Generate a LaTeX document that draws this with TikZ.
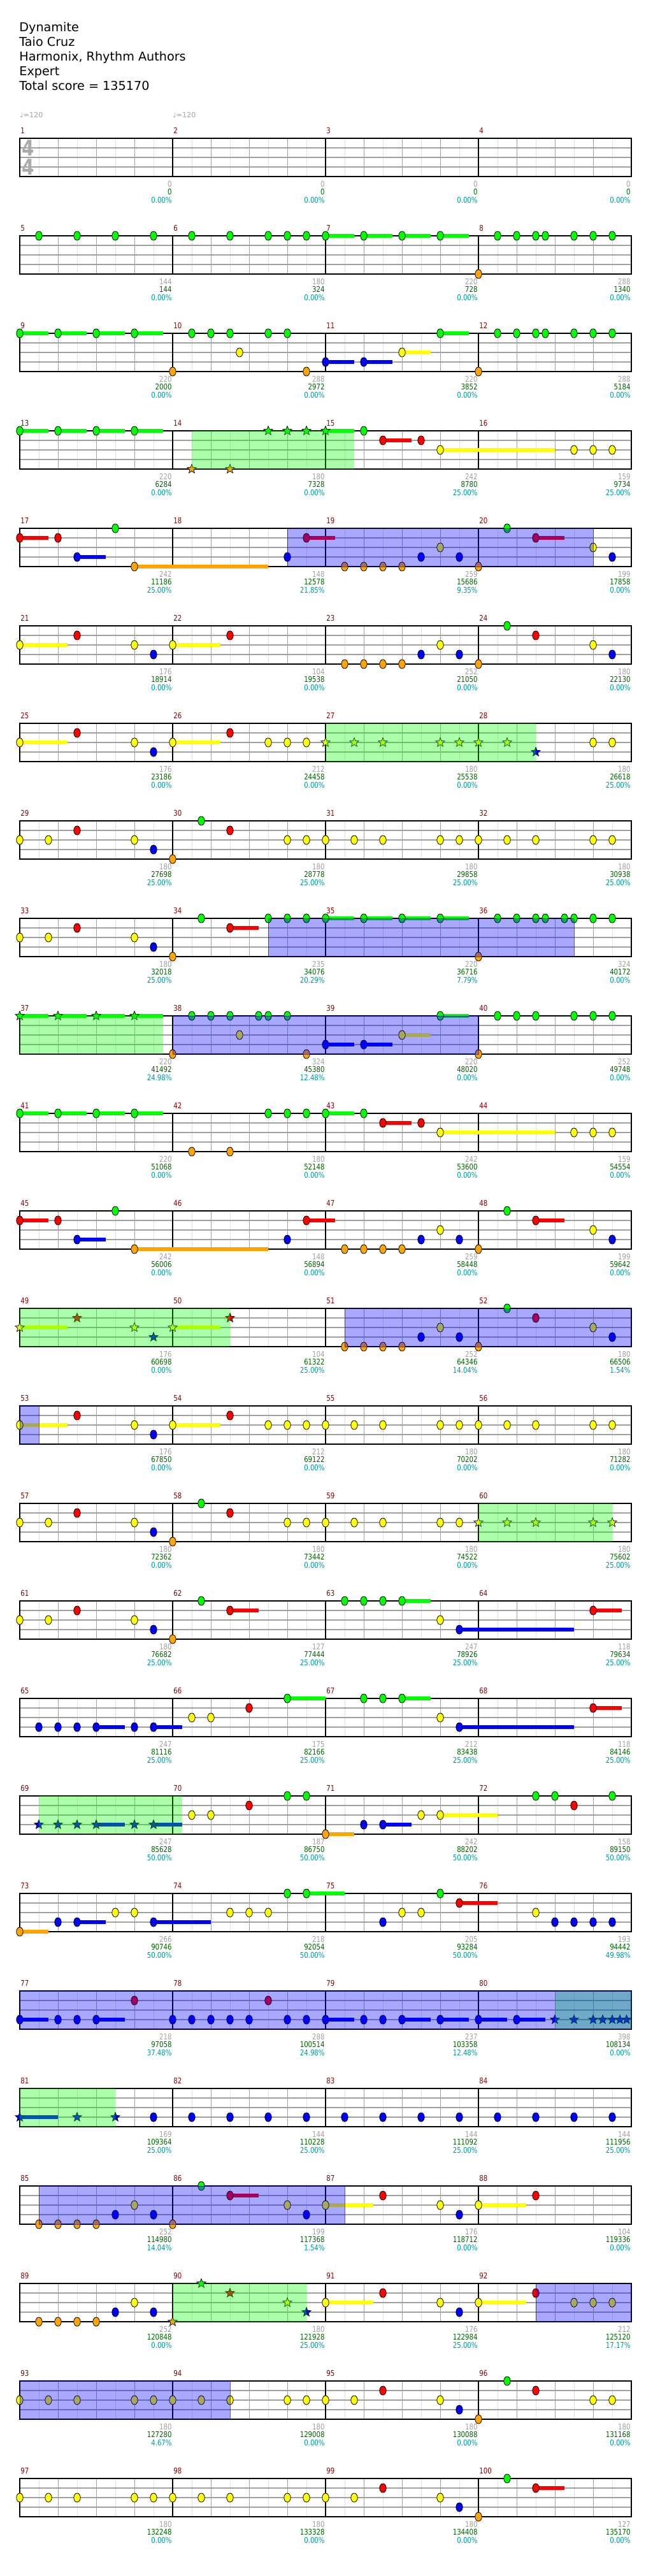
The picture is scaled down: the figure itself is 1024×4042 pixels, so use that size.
\documentclass[tikz,border=0pt]{standalone}
\usepackage{fontspec}
\setmainfont{DejaVu Sans}
\newfontfamily\numfont[FakeStretch=0.82]{DejaVu Sans}
\usetikzlibrary{shapes.geometric}

\definecolor{lane0}{HTML}{00FF00}
\definecolor{lane1}{HTML}{FF0000}
\definecolor{lane2}{HTML}{FFFF00}
\definecolor{lane3}{HTML}{0000FF}
\definecolor{lane4}{HTML}{FFA500}
\definecolor{barred}{HTML}{8B0000}
\definecolor{lblgrey}{HTML}{A0A0A0}
\definecolor{lblgreen}{HTML}{006400}
\definecolor{lblteal}{HTML}{009999}
\definecolor{gridlight}{HTML}{E0E0E0}
\definecolor{gridmid}{HTML}{A0A0A0}

% grid of one row of four measures
\newcommand{\drawstaff}[1]{%
  \pgfmathsetmacro{\T}{217+153*#1}
  \foreach \k in {1,3,...,31} \draw[minorline] ({31+30*\k},\T) -- ++(0,60);
  \foreach \j in {1,2,3} \draw[laneline] (31,{\T+15*\j}) -- ++(960,0);
  \foreach \k in {2,4,6,10,12,14,18,20,22,26,28,30} \draw[beatline] ({31+30*\k},\T) -- ++(0,60);
  \foreach \k in {8,16,24} \draw[barline] ({31+30*\k},\T) -- ++(0,60);
  \draw[barline] (31,\T) rectangle ++(960,60);
}
% notes: position (eighths) / lane / sustain end
\newcommand{\drawnotes}[2]{%
  \pgfmathsetmacro{\T}{217+153*#1}
  \foreach \p/\l/\e in {#2}{
    \ifdim\e pt>0pt \fill[lane\l] ({31+30*\p},{\T+15*\l-3.4}) rectangle ({31+30*\e},{\T+15*\l+3.4}); \fi
    \filldraw[notehead, fill=lane\l] ({31+30*\p},{\T+15*\l}) ellipse (2.6pt and 3.5pt);
  }
}
\newcommand{\drawstars}[2]{%
  \pgfmathsetmacro{\T}{217+153*#1}
  \foreach \p/\l/\e [count=\i] in {#2}{
    \ifdim\e pt>0pt \fill[lane\l] ({31+30*\p},{\T+15*\l-3.4}) rectangle ({31+30*\e},{\T+15*\l+3.4}); \fi
    \node[starnote, fill=lane\l] (st#1-\i) at ({31+30*\p},{\T+15*\l}) {};
  }
}
% shaded zone: style, row, from, to
\newcommand{\spzone}[4]{%
  \pgfmathsetmacro{\T}{217+153*#2}
  \path[#1] ({31+30*#3},\T) rectangle ({31+30*#4},{\T+60});
}

\begin{document}
\begin{tikzpicture}[x=0.5pt, y=-0.5pt]
    \tikzset{
        minorline/.style={draw=gridlight, line width=0.5pt},
        beatline/.style={draw=gridmid, line width=0.5pt},
        laneline/.style={draw=gridmid, line width=0.6pt},
        barline/.style={draw=black, line width=0.6pt},
        notehead/.style={draw=black, line width=0.4pt},
        starnote/.style={draw=black, star, star points=5, star point ratio=2.3, minimum size=7.5pt, inner sep=0pt, line width=0.35pt},
        spblue/.style={fill=lane3, fill opacity=0.34, draw=lane3!50!black, draw opacity=0.6, line width=0.5pt},
        spgreen/.style={fill=lane0, fill opacity=0.33},
        title/.style={anchor=base west, inner sep=0pt, font=\fontsize{9.6pt}{11pt}\selectfont},
        barnum/.style={anchor=base west, inner sep=0pt, text=barred, font=\numfont\fontsize{6.2pt}{7pt}\selectfont},
        greylbl/.style={anchor=base east, inner sep=0pt, text=lblgrey, font=\numfont\fontsize{6.2pt}{7pt}\selectfont},
        scorelbl/.style={anchor=base east, inner sep=0pt, text=lblgreen, font=\numfont\fontsize{6.2pt}{7pt}\selectfont},
        pctlbl/.style={anchor=base east, inner sep=0pt, text=lblteal, font=\numfont\fontsize{6.2pt}{7pt}\selectfont},
        tempo/.style={anchor=base west, inner sep=0pt, text=lblgrey, font=\fontsize{5.6pt}{6pt}\selectfont},
        timesig/.style={inner sep=0pt, text=lblgrey!90, font=\numfont\bfseries\fontsize{17pt}{17pt}\selectfont}
    }
    \useasboundingbox[fill=white] (0,0) rectangle (1024,4042);

    % header
    \node[title] (song) at (30,49) {Dynamite};
    \node[title] (artist) at (30,72) {Taio Cruz};
    \node[title] (charter) at (30,95) {Harmonix, Rhythm Authors};
    \node[title] (diff) at (30,118) {Expert};
    \node[title] (total) at (30,141) {Total score = 135170};
    \node[tempo] (bpm1) at (31,184) {♩=120};
    \node[tempo] (bpm2) at (271,184) {♩=120};

    \foreach \r in {0,...,24} {\drawstaff{\r}}
    \node[timesig] (tsa) at (44.5,232.5) {4};
    \node[timesig] (tsb) at (44.5,262.5) {4};

    % measure numbers and running scores
    \foreach \m/\a/\b/\c in {1/0/0/0.00, 2/0/0/0.00, 3/0/0/0.00, 4/0/0/0.00,
        5/144/144/0.00, 6/180/324/0.00, 7/220/728/0.00, 8/288/1340/0.00,
        9/220/2000/0.00, 10/288/2972/0.00, 11/220/3852/0.00, 12/288/5184/0.00,
        13/220/6284/0.00, 14/180/7328/0.00, 15/242/8780/25.00, 16/159/9734/25.00,
        17/242/11186/25.00, 18/148/12578/21.85, 19/259/15686/9.35, 20/199/17858/0.00,
        21/176/18914/0.00, 22/104/19538/0.00, 23/252/21050/0.00, 24/180/22130/0.00,
        25/176/23186/0.00, 26/212/24458/0.00, 27/180/25538/0.00, 28/180/26618/25.00,
        29/180/27698/25.00, 30/180/28778/25.00, 31/180/29858/25.00, 32/180/30938/25.00,
        33/180/32018/25.00, 34/235/34076/20.29, 35/220/36716/7.79, 36/324/40172/0.00,
        37/220/41492/24.98, 38/324/45380/12.48, 39/220/48020/0.00, 40/252/49748/0.00,
        41/220/51068/0.00, 42/180/52148/0.00, 43/242/53600/0.00, 44/159/54554/0.00,
        45/242/56006/0.00, 46/148/56894/0.00, 47/259/58448/0.00, 48/199/59642/0.00,
        49/176/60698/0.00, 50/104/61322/25.00, 51/252/64346/14.04, 52/180/66506/1.54,
        53/176/67850/0.00, 54/212/69122/0.00, 55/180/70202/0.00, 56/180/71282/0.00,
        57/180/72362/0.00, 58/180/73442/0.00, 59/180/74522/0.00, 60/180/75602/25.00,
        61/180/76682/25.00, 62/127/77444/25.00, 63/247/78926/25.00, 64/118/79634/25.00,
        65/247/81116/25.00, 66/175/82166/25.00, 67/212/83438/25.00, 68/118/84146/25.00,
        69/247/85628/50.00, 70/187/86750/50.00, 71/242/88202/50.00, 72/158/89150/50.00,
        73/266/90746/50.00, 74/218/92054/50.00, 75/205/93284/50.00, 76/193/94442/49.98,
        77/218/97058/37.48, 78/288/100514/24.98, 79/237/103358/12.48, 80/398/108134/0.00,
        81/169/109364/25.00, 82/144/110228/25.00, 83/144/111092/25.00, 84/144/111956/25.00,
        85/252/114980/14.04, 86/199/117368/1.54, 87/176/118712/0.00, 88/104/119336/0.00,
        89/252/120848/0.00, 90/180/121928/25.00, 91/176/122984/25.00, 92/212/125120/17.17,
        93/180/127280/4.67, 94/180/129008/0.00, 95/180/130088/0.00, 96/180/131168/0.00,
        97/180/132248/0.00, 98/180/133328/0.00, 99/180/134408/0.00, 100/127/135170/0.00} {
        \pgfmathtruncatemacro{\rr}{(\m-1)/4}
        \pgfmathtruncatemacro{\cc}{\m-1-4*\rr}
        \pgfmathsetmacro{\yt}{217+153*\rr}
        \pgfmathsetmacro{\xs}{31+240*\cc}
        \node[barnum] (mn\m) at ({\xs+1},{\yt-7.5}) {\m};
        \node[greylbl] (gs\m) at ({\xs+239},{\yt+76}) {\a};
        \node[scorelbl] (sc\m) at ({\xs+239},{\yt+88.8}) {\b};
        \node[pctlbl] (pc\m) at ({\xs+239},{\yt+101.7}) {\c\%};
    }

    % notes, row by row
    \drawnotes{1}{1/0/0, 3/0/0, 5/0/0, 7/0/0, 9/0/0, 11/0/0, 13/0/0, 14/0/0, 15/0/0, 16/0/17.5, 18/0/19.5, 20/0/21.5, 22/0/23.5, 24/4/0, 25/0/0, 26/0/0, 27/0/0, 27.5/0/0, 29/0/0, 30/0/0, 31/0/0}
    \drawnotes{2}{0/0/1.5, 2/0/3.5, 4/0/5.5, 6/0/7.5, 8/4/0, 9/0/0, 10/0/0, 11/0/0, 11.5/2/0, 13/0/0, 14/0/0, 15/4/0, 16/3/17.5, 18/3/19.5, 20/2/21.5, 22/0/23.5, 24/4/0, 25/0/0, 26/0/0, 27/0/0, 27.5/0/0, 29/0/0, 30/0/0, 31/0/0}
    \drawnotes{3}{0/0/1.5, 2/0/3.5, 4/0/5.5, 6/0/7.5, 18/0/0, 19/1/20.5, 21/1/0, 22/2/28, 29/2/0, 30/2/0, 31/2/0}
    \drawstars{3}{9/4/0, 11/4/0, 13/0/0, 14/0/0, 15/0/0, 16/0/17.5}
    \drawnotes{4}{0/1/1.5, 2/1/0, 3/3/4.5, 5/0/0, 6/4/13, 14/3/0, 15/1/16.5, 17/4/0, 18/4/0, 19/4/0, 20/4/0, 21/3/0, 22/2/0, 23/3/0, 24/4/0, 25.5/0/0, 27/1/28.5, 30/2/0, 31/3/0}
    \drawnotes{5}{0/2/2.5, 3/1/0, 6/2/0, 7/3/0, 8/2/10.5, 11/1/0, 17/4/0, 18/4/0, 19/4/0, 20/4/0, 21/3/0, 22/2/0, 23/3/0, 24/4/0, 25.5/0/0, 27/1/0, 30/2/0, 31/3/0}
    \drawnotes{6}{0/2/2.5, 3/1/0, 6/2/0, 7/3/0, 8/2/10.5, 11/1/0, 13/2/0, 14/2/0, 15/2/0, 30/2/0, 31/2/0}
    \drawstars{6}{16/2/0, 17.5/2/0, 19/2/0, 22/2/0, 23/2/0, 24/2/0, 25.5/2/0, 27/3/0}
    \drawnotes{7}{0/2/0, 1.5/2/0, 3/1/0, 6/2/0, 7/3/0, 8/4/0, 9.5/0/0, 11/1/0, 14/2/0, 15/2/0, 16/2/0, 17.5/2/0, 19/2/0, 22/2/0, 23/2/0, 24/2/0, 25.5/2/0, 27/2/0, 30/2/0, 31/2/0}
    \drawnotes{8}{0/2/0, 1.5/2/0, 3/1/0, 6/2/0, 7/3/0, 8/4/0, 9.5/0/0, 11/1/12.5, 13/0/0, 14/0/0, 15/0/0, 16/0/17.5, 18/0/19.5, 20/0/21.5, 22/0/23.5, 24/4/0, 25/0/0, 26/0/0, 27/0/0, 27.5/0/0, 28.5/0/0, 29/0/0, 30/0/0, 31/0/0}
    \drawnotes{9}{8/4/0, 9/0/0, 10/0/0, 11/0/0, 11.5/2/0, 12.5/0/0, 13/0/0, 14/0/0, 15/4/0, 16/3/17.5, 18/3/19.5, 20/2/21.5, 22/0/23.5, 24/4/0, 25/0/0, 26/0/0, 27/0/0, 29/0/0, 30/0/0, 31/0/0}
    \drawstars{9}{0/0/1.5, 2/0/3.5, 4/0/5.5, 6/0/7.5}
    \drawnotes{10}{0/0/1.5, 2/0/3.5, 4/0/5.5, 6/0/7.5, 9/4/0, 11/4/0, 13/0/0, 14/0/0, 15/0/0, 16/0/17.5, 18/0/0, 19/1/20.5, 21/1/0, 22/2/28, 29/2/0, 30/2/0, 31/2/0}
    \drawnotes{11}{0/1/1.5, 2/1/0, 3/3/4.5, 5/0/0, 6/4/13, 14/3/0, 15/1/16.5, 17/4/0, 18/4/0, 19/4/0, 20/4/0, 21/3/0, 22/2/0, 23/3/0, 24/4/0, 25.5/0/0, 27/1/28.5, 30/2/0, 31/3/0}
    \drawnotes{12}{17/4/0, 18/4/0, 19/4/0, 20/4/0, 21/3/0, 22/2/0, 23/3/0, 24/4/0, 25.5/0/0, 27/1/0, 30/2/0, 31/3/0}
    \drawstars{12}{0/2/2.5, 3/1/0, 6/2/0, 7/3/0, 8/2/10.5, 11/1/0}
    \drawnotes{13}{0/2/2.5, 3/1/0, 6/2/0, 7/3/0, 8/2/10.5, 11/1/0, 13/2/0, 14/2/0, 15/2/0, 16/2/0, 17.5/2/0, 19/2/0, 22/2/0, 23/2/0, 24/2/0, 25.5/2/0, 27/2/0, 30/2/0, 31/2/0}
    \drawnotes{14}{0/2/0, 1.5/2/0, 3/1/0, 6/2/0, 7/3/0, 8/4/0, 9.5/0/0, 11/1/0, 14/2/0, 15/2/0, 16/2/0, 17.5/2/0, 19/2/0, 22/2/0, 23/2/0}
    \drawstars{14}{24/2/0, 25.5/2/0, 27/2/0, 30/2/0, 31/2/0}
    \drawnotes{15}{0/2/0, 1.5/2/0, 3/1/0, 6/2/0, 7/3/0, 8/4/0, 9.5/0/0, 11/1/12.5, 17/0/0, 18/0/0, 19/0/0, 20/0/21.5, 22/2/0, 23/3/29, 30/1/31.5}
    \drawnotes{16}{1/3/0, 2/3/0, 3/3/0, 4/3/5.5, 6/3/0, 7/3/8.5, 9/2/0, 10/2/0, 12/1/0, 14/0/16, 18/0/0, 19/0/0, 20/0/21.5, 22/2/0, 23/3/29, 30/1/31.5}
    \drawnotes{17}{9/2/0, 10/2/0, 12/1/0, 14/0/0, 15/0/0, 16/4/17.5, 18/3/0, 19/3/20.5, 21/2/0, 22/2/25, 27/0/0, 28/0/0, 29/1/0, 31/0/0}
    \drawstars{17}{1/3/0, 2/3/0, 3/3/0, 4/3/5.5, 6/3/0, 7/3/8.5}
    \drawnotes{18}{0/4/1.5, 2/3/0, 3/3/4.5, 5/2/0, 6/2/0, 7/3/10, 11/2/0, 12/2/0, 13/2/0, 14/0/0, 15/0/17, 19/3/0, 20/2/0, 21/2/0, 22/0/0, 23/1/25, 27/2/0, 28/3/0, 29/3/0, 30/3/0, 31/3/0}
    \drawnotes{19}{0/3/1.5, 2/3/0, 3/3/0, 4/3/5.5, 6/1/0, 8/3/0, 9/3/0, 10/3/0, 11/3/0, 12/3/0, 13/1/0, 14/3/0, 15/3/0, 16/3/17.5, 18/3/0, 19/3/0, 20/3/21.5, 22/3/23.5, 24/3/25.5, 26/3/27.5}
    \drawstars{19}{28/3/0, 29/3/0, 30/3/0, 30.5/3/0, 31/3/0, 31.4/3/0, 31.75/3/0}
    \drawnotes{20}{7/3/0, 9/3/0, 11/3/0, 13/3/0, 15/3/0, 17/3/0, 19/3/0, 21/3/0, 23/3/0, 25/3/0, 27/3/0, 29/3/0, 31/3/0}
    \drawstars{20}{0/3/2, 3/3/0, 5/3/0}
    \drawnotes{21}{1/4/0, 2/4/0, 3/4/0, 4/4/0, 5/3/0, 6/2/0, 7/3/0, 8/4/0, 9.5/0/0, 11/1/12.5, 14/2/0, 15/3/0, 16/2/18.5, 19/1/0, 22/2/0, 23/3/0, 24/2/26.5, 27/1/0}
    \drawnotes{22}{1/4/0, 2/4/0, 3/4/0, 4/4/0, 5/3/0, 6/2/0, 7/3/0, 16/2/18.5, 19/1/0, 22/2/0, 23/3/0, 24/2/26.5, 27/1/0, 29/2/0, 30/2/0, 31/2/0}
    \drawstars{22}{8/4/0, 9.5/0/0, 11/1/0, 14/2/0, 15/3/0}
    \drawnotes{23}{0/2/0, 1.5/2/0, 3/2/0, 6/2/0, 7/2/0, 8/2/0, 9.5/2/0, 11/2/0, 14/2/0, 15/2/0, 16/2/0, 17.5/2/0, 19/1/0, 22/2/0, 23/3/0, 24/4/0, 25.5/0/0, 27/1/0, 30/2/0, 31/2/0}
    \drawnotes{24}{0/2/0, 1.5/2/0, 3/2/0, 6/2/0, 7/2/0, 8/2/0, 9.5/2/0, 11/2/0, 14/2/0, 15/2/0, 16/2/0, 17.5/2/0, 19/1/0, 22/2/0, 23/3/0, 24/4/0, 25.5/0/0, 27/1/28.5}

    % star power phrases and activations
    \spzone{spgreen}{3}{9}{17.5}
    \spzone{spblue}{4}{14}{30}
    \spzone{spgreen}{6}{16}{27}
    \spzone{spblue}{8}{13}{29}
    \spzone{spgreen}{9}{0}{7.5}
    \spzone{spblue}{9}{8}{24}
    \spzone{spgreen}{12}{0}{11}
    \spzone{spblue}{12}{17}{32}
    \spzone{spblue}{13}{0}{1}
    \spzone{spgreen}{14}{24}{31}
    \spzone{spgreen}{17}{1}{8.5}
    \spzone{spgreen}{19}{28}{32}
    \spzone{spblue}{19}{0}{32}
    \spzone{spgreen}{20}{0}{5}
    \spzone{spblue}{21}{1}{17}
    \spzone{spgreen}{22}{8}{15}
    \spzone{spblue}{22}{27}{32}
    \spzone{spblue}{23}{0}{11}
\end{tikzpicture}
\end{document}
